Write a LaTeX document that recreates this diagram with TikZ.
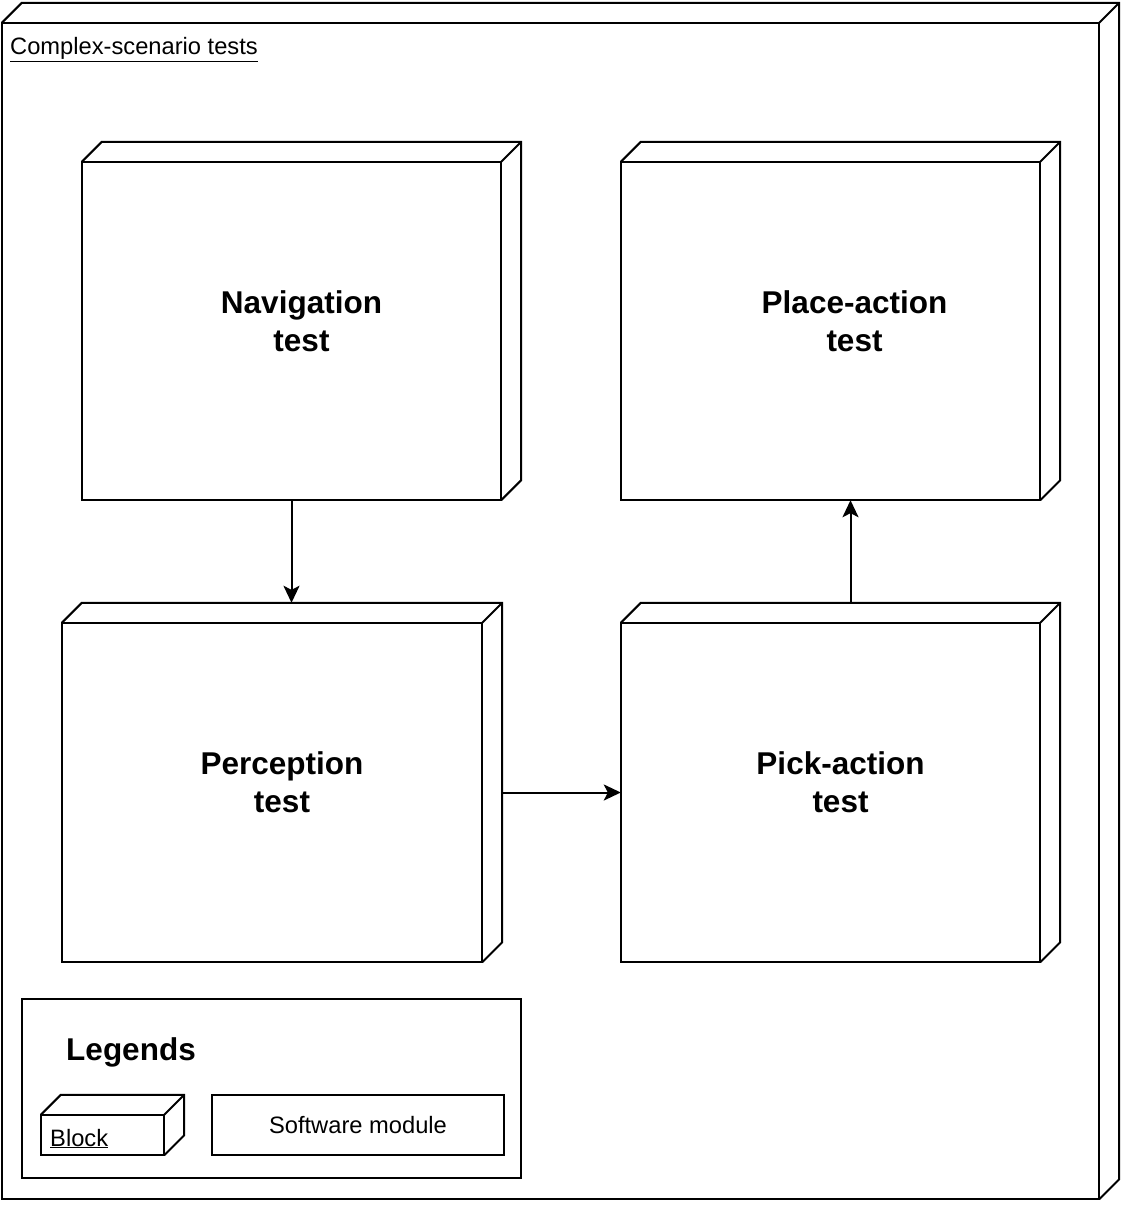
\documentclass[tikz,border=0pt]{standalone}
\usepackage{fontspec}
\setmainfont{Liberation Sans}
\usetikzlibrary{arrows.meta,calc}
\tikzset{
  shape3d/.style={draw=none, inner sep=0pt, align=center},
  bigbold/.style={font=\fontsize{31.5pt}{38pt}\selectfont\bfseries},
  smalltxt/.style={font=\fontsize{23.7pt}{28pt}\selectfont},
  arr/.style={line width=2pt, -{Stealth[length=17pt,width=16pt,inset=4pt]}},
  edge3d/.style={line width=2pt, line join=miter}
}
\newcommand{\drawboxthree}[2]{% node name, depth
  \draw[edge3d] (#1.south west) rectangle ($(#1.north east)+(-#2,-#2)$);
  \draw[edge3d] ($(#1.north west)+(0,-#2)$) -- ($(#1.north west)+(#2,0)$) -- (#1.north east)
     -- ($(#1.south east)+(0,#2)$) -- ($(#1.south east)+(-#2,0)$);
  \draw[edge3d] ($(#1.north east)+(-#2,-#2)$) -- (#1.north east);
}
\begin{document}
\begin{tikzpicture}[x=1pt,y=-1pt]
\useasboundingbox (0,0) rectangle (1122,1206);
% outer container
\node[shape3d, minimum width=1117pt, minimum height=1196pt] (outer) at (560.5,601) {};
\drawboxthree{outer}{20pt}
\node[smalltxt, anchor=base west, inner sep=0pt] (title) at (10,55) {\underline{Complex-scenario tests}};
% blocks
\node[shape3d, bigbold, minimum width=439pt, minimum height=358pt] (nav) at (301.5,321) {Navigation\\test};
\drawboxthree{nav}{20pt}
\node[shape3d, bigbold, minimum width=439pt, minimum height=358pt] (place) at (840.5,321) {\hspace*{28pt}Place-action\\\hspace*{28pt}test};
\drawboxthree{place}{20pt}
\node[shape3d, bigbold, minimum width=440pt, minimum height=359pt] (perc) at (282,782.5) {Perception\\test};
\drawboxthree{perc}{20pt}
\node[shape3d, bigbold, minimum width=439pt, minimum height=359pt] (pick) at (840.5,782.5) {Pick-action\\test};
\drawboxthree{pick}{20pt}
% connectors
\draw[arr] ([xshift=-10pt]nav.south) -- ([xshift=-10pt]nav.south |- perc.north);
\draw[arr] ([yshift=-10pt]perc.east) -- ([yshift=-10pt]perc.east -| pick.west);
\draw[arr] ([xshift=10pt]pick.north) -- ([xshift=10pt]pick.north |- place.south);
% legend
\node[draw, line width=2pt, minimum width=499pt, minimum height=179pt, inner sep=0pt] (legend) at (271.5,1088.5) {};
\node[bigbold, inner sep=0pt] (legtitle) at (131,1052) {Legends};
\node[shape3d, minimum width=143pt, minimum height=60pt] (blk) at (112.5,1125) {};
\drawboxthree{blk}{20pt}
\node[smalltxt, anchor=base west, inner sep=0pt] (blktxt) at (50,1146) {\underline{Block}};
\node[draw, line width=2pt, smalltxt, minimum width=292pt, minimum height=60pt, inner sep=0pt] (sw) at (358,1125) {Software module};
\end{tikzpicture}
\end{document}
